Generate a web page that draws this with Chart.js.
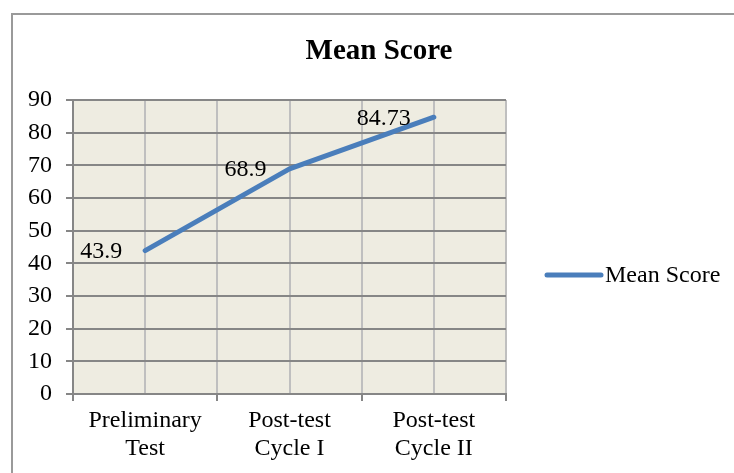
<!DOCTYPE html>
<html lang="en">
<head>
    <meta charset="UTF-8">
    <title>Mean Score</title>
    <script src="https://cdn.jsdelivr.net/npm/chart.js"></script>
    <style>
        html, body {
            margin: 0;
            padding: 0;
            background: #ffffff;
            overflow: hidden;
        }
        .frame {
            position: absolute;
            left: 11px;
            top: 13px;
            width: 760px;
            height: 500px;
            border: 2px solid #9a9a9a;
        }
        #meanChart {
            display: block;
        }
    </style>
</head>
<body>
    <div class="frame">
        <canvas id="meanChart" width="732" height="470"></canvas>
    </div>
    <script>
    // chart data
    const categories = [['Preliminary', 'Test'], ['Post-test', 'Cycle I'], ['Post-test', 'Cycle II']];
    const meanScores = [43.9, 68.9, 84.73];
    const scoreLabels = ['43.9', '68.9', '84.73'];
    const yTicks = [0, 10, 20, 30, 40, 50, 60, 70, 80, 90];
    const seriesName = 'Mean Score';
    const chartTitle = 'Mean Score';

    const serif = "'Times New Roman', 'Liberation Serif', serif";
    const lineBlue = '#4a7ebb';
    const darkGrid = '#868686';
    const lightGrid = '#bfbfbf';

    // each category sits in the middle of its own band (two half steps wide)
    const points = meanScores.map((v, i) => ({ x: i * 2 + 1, y: v }));

    // plot background
    const plotBg = {
        id: 'plotBg',
        beforeDraw(chart) {
            const { ctx, chartArea: a } = chart;
            ctx.save();
            ctx.fillStyle = '#eeece1';
            ctx.fillRect(a.left, a.top, a.right - a.left, a.bottom - a.top);
            ctx.restore();
        }
    };

    // title centred on the whole frame, not on the plot
    const frameTitle = {
        id: 'frameTitle',
        afterDraw(chart) {
            const { ctx, width } = chart;
            ctx.save();
            ctx.font = 'bold 29px ' + serif;
            ctx.fillStyle = '#000';
            ctx.textAlign = 'center';
            ctx.textBaseline = 'middle';
            ctx.fillText(chartTitle, width / 2, 37);
            ctx.restore();
        }
    };

    // value labels to the left of each point
    const valueLabels = {
        id: 'valueLabels',
        afterDatasetsDraw(chart) {
            const { ctx } = chart;
            const meta = chart.getDatasetMeta(0);
            ctx.save();
            ctx.font = '24px ' + serif;
            ctx.fillStyle = '#000';
            ctx.textAlign = 'right';
            ctx.textBaseline = 'middle';
            meta.data.forEach((pt, i) => {
                ctx.fillText(scoreLabels[i], pt.x - 23, pt.y + 1);
            });
            ctx.restore();
        }
    };

    // legend on the right, Excel style
    const sideLegend = {
        id: 'sideLegend',
        afterDraw(chart) {
            const { ctx, chartArea: a } = chart;
            const y = (a.top + a.bottom) / 2 + 28;
            const x0 = a.right + 41;
            ctx.save();
            ctx.strokeStyle = lineBlue;
            ctx.lineWidth = 5;
            ctx.lineCap = 'round';
            ctx.beginPath();
            ctx.moveTo(x0, y);
            ctx.lineTo(x0 + 54, y);
            ctx.stroke();
            ctx.font = '24px ' + serif;
            ctx.fillStyle = '#000';
            ctx.textAlign = 'left';
            ctx.textBaseline = 'middle';
            ctx.fillText(seriesName, x0 + 58, y + 1);
            ctx.restore();
        }
    };

    new Chart(document.getElementById('meanChart'), {
        type: 'line',
        data: {
            datasets: [{
                label: seriesName,
                data: points,
                borderColor: lineBlue,
                borderWidth: 5,
                borderCapStyle: 'round',
                borderJoinStyle: 'round',
                pointRadius: 0,
                tension: 0,
                fill: false
            }]
        },
        options: {
            responsive: false,
            animation: false,
            layout: {
                padding: { left: 0, right: 239, top: 85, bottom: 0 }
            },
            plugins: {
                legend: { display: false },
                tooltip: { enabled: false },
                title: { display: false }
            },
            scales: {
                x: {
                    type: 'linear',
                    min: 0,
                    max: categories.length * 2,
                    afterFit(scale) { scale.height = 91; },
                    ticks: {
                        stepSize: 1,
                        autoSkip: false,
                        maxRotation: 0,
                        padding: 6,
                        color: '#000',
                        font: { family: serif, size: 24, lineHeight: 1.15 },
                        callback: (v) => (v % 2 === 1 ? categories[(v - 1) / 2] : '')
                    },
                    grid: {
                        color: lightGrid,
                        lineWidth: 2,
                        tickLength: 7,
                        tickColor: (c) => (c.tick && c.tick.value % 2 === 0 ? darkGrid : 'rgba(0,0,0,0)')
                    },
                    border: { color: darkGrid, width: 2 }
                },
                y: {
                    min: yTicks[0],
                    max: yTicks[yTicks.length - 1],
                    afterFit(scale) { scale.width = 60; },
                    afterBuildTicks(scale) {
                        scale.ticks = yTicks.map(v => ({ value: v }));
                    },
                    ticks: {
                        padding: 14,
                        color: '#000',
                        font: { family: serif, size: 24 }
                    },
                    grid: {
                        color: darkGrid,
                        lineWidth: 2,
                        tickLength: 7,
                        tickColor: darkGrid
                    },
                    border: { color: darkGrid, width: 2 }
                }
            }
        },
        plugins: [plotBg, frameTitle, valueLabels, sideLegend]
    });
    </script>
</body>
</html>
